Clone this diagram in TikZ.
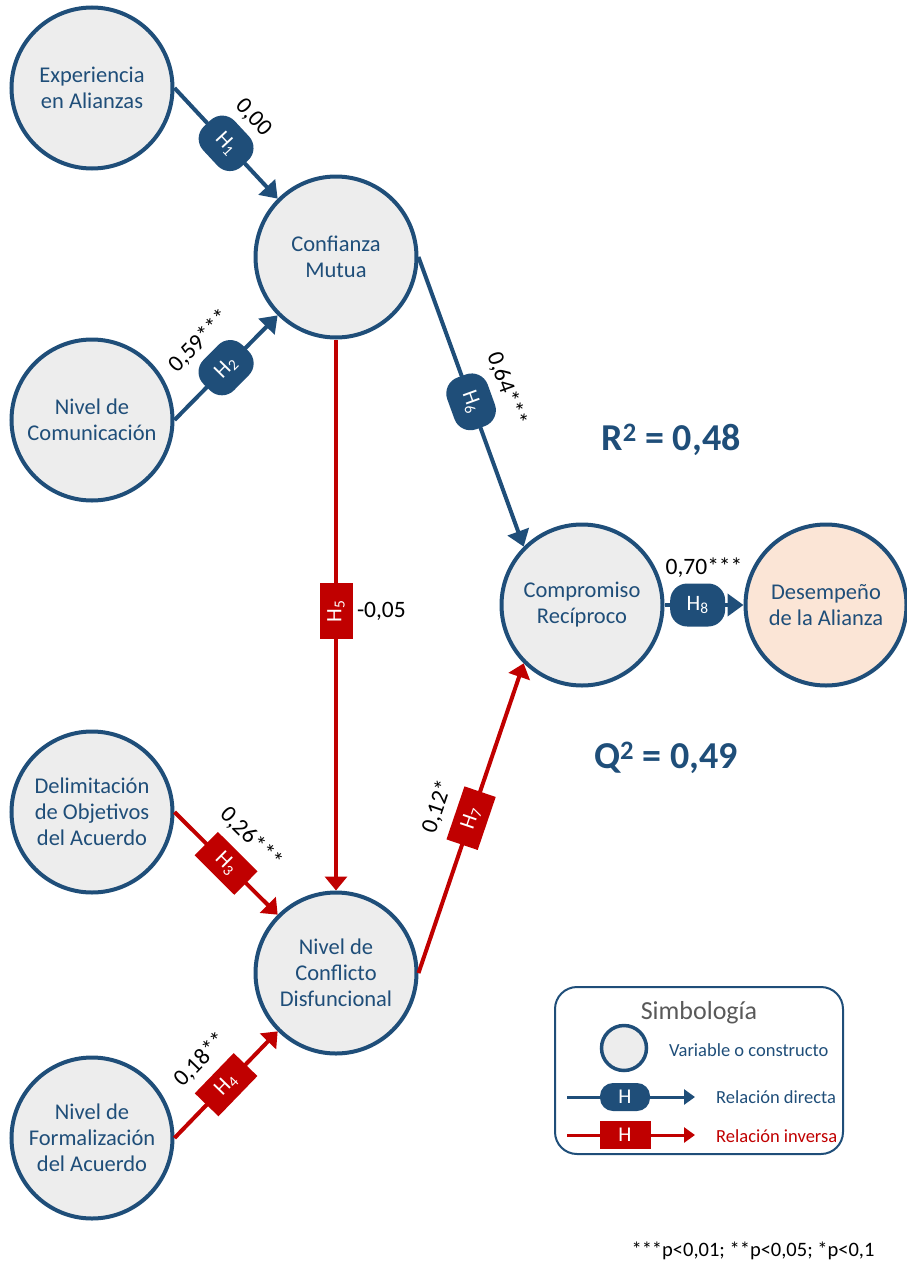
\documentclass[tikz,border=0pt]{standalone}
\usepackage{fontspec}
\setmainfont{Carlito}
\usetikzlibrary{arrows.meta}
\definecolor{azul}{HTML}{1F4E79}
\definecolor{rojo}{HTML}{C00000}
\definecolor{gris}{HTML}{EDEDED}
\definecolor{salmon}{HTML}{FBE5D6}
\definecolor{grisTxt}{HTML}{595959}

\begin{document}
\begin{tikzpicture}[x=1pt,y=-1pt,
  var/.style={circle, draw=azul, line width=4pt, fill=gris, minimum size=161pt,
    inner sep=0pt, align=center, text=azul, font=\fontsize{22.5}{26}\selectfont},
  directa/.style={draw=azul, line width=4pt, -{Triangle[length=16pt,width=22pt]}},
  inversa/.style={draw=rojo, line width=4pt, -{Triangle[length=14pt,width=22pt]}},
  hpill/.style={fill=azul, rounded corners=17pt, minimum width=55pt, minimum height=43pt,
    inner sep=0pt, text=white, font=\fontsize{22}{22}\selectfont},
  hbox/.style={fill=rojo, minimum width=56pt, minimum height=33pt, inner sep=0pt,
    text=white, font=\fontsize{22}{22}\selectfont},
  coef/.style={font=\fontsize{23.5}{23.5}\selectfont, inner sep=0pt, text=black},
  leyenda/.style={font=\fontsize{18.5}{18.5}\selectfont, inner sep=0pt, anchor=west},
]
\useasboundingbox (0,0) rectangle (907,1263);

% constructs
\node[var] (exp)   at (92,88)   {Experiencia\\en Alianzas};
\node[var] (conf)  at (336,257) {Confianza\\Mutua};
\node[var] (com)   at (92,420)  {Nivel de\\Comunicación};
\node[var] (comp)  at (582,605) {Compromiso\\Recíproco};
\node[var, fill=salmon] (des) at (826,605) {Desempeño\\de la Alianza};
\node[var] (del)   at (92,812)  {Delimitación\\de Objetivos\\del Acuerdo};
\node[var] (confl) at (336,973) {Nivel de\\Conflicto\\Disfuncional};
\node[var] (form)  at (92,1138) {Nivel de\\Formalización\\del Acuerdo};

% hypotheses
\draw[directa] (exp.east) -- node[hpill, sloped] (h1) {H\textsubscript{1}}
  node[coef, sloped, above=26pt] (c1) {0,00} (conf.135);
\draw[directa] (com.east) -- node[hpill, sloped] (h2) {H\textsubscript{2}}
  node[coef, sloped, above=26pt] (c2) {0,59***} (conf.225);
\draw[inversa] (del.east) -- node[hbox, sloped] (h3) {H\textsubscript{3}}
  node[coef, sloped, above=24pt] (c3) {0,26***} (confl.135);
\draw[inversa] (form.east) -- node[hbox, sloped] (h4) {H\textsubscript{4}}
  node[coef, sloped, above=24pt] (c4) {0,18**} (confl.225);
\draw[inversa] (conf.south) -- node[hbox, rotate=90, pos=0.493] (h5) {H\textsubscript{5}}
  node[coef, right=19pt, pos=0.493] (c5) {-0,05} (confl.north);
\draw[directa] (conf.east) -- node[hpill, sloped] (h6) {H\textsubscript{6}}
  node[coef, sloped, above=26pt] (c6) {0,64***} (comp.135);
\draw[inversa] (confl.east) -- node[hbox, sloped] (h7) {H\textsubscript{7}}
  node[coef, sloped, above=24pt] (c7) {0,12*} (comp.225);
\draw[directa] (comp.east) -- node[hpill, pos=0.42] (h8) {H\textsubscript{8}}
  node[coef, above=26pt, pos=0.5] (c8) {0,70***} (des.west);

% fit indices
\node[font=\bfseries\fontsize{38}{38}\selectfont, text=azul] (r2) at (671,440)
  {R\textsuperscript{2} = 0,48};
\node[font=\bfseries\fontsize{38}{38}\selectfont, text=azul] (q2) at (666,758)
  {Q\textsuperscript{2} = 0,49};

% legend
\node[draw=azul, line width=2pt, rounded corners=22pt, minimum width=288pt,
  minimum height=167pt] (ley) at (699,1070.5) {};
\node[font=\fontsize{26}{26}\selectfont, text=grisTxt] (tit) at (699,1013) {Simbología};
\node[circle, draw=azul, line width=3.5pt, fill=gris, minimum size=45pt, inner sep=0pt]
  (lc) at (624,1048) {};
\node[leyenda, text=azul] (lvar) at (669,1050) {Variable o constructo};
\coordinate (ld1) at (567,1097);
\coordinate (ld2) at (695,1097);
\draw[draw=azul, line width=3pt, -{Triangle[length=11pt,width=15pt]}] (ld1) -- (ld2);
\node[hpill, minimum width=50pt, minimum height=28pt, rounded corners=13pt,
  font=\fontsize{21}{21}\selectfont] (lh1) at (625,1097) {H};
\node[leyenda, text=azul] (ldir) at (716,1097) {Relación directa};
\coordinate (li1) at (567,1135);
\coordinate (li2) at (695,1135);
\draw[draw=rojo, line width=3pt, -{Triangle[length=11pt,width=15pt]}] (li1) -- (li2);
\node[hbox, minimum width=51pt, minimum height=28pt, font=\fontsize{21}{21}\selectfont]
  (lh2) at (625,1135) {H};
\node[leyenda, text=rojo] (linv) at (716,1136) {Relación inversa};

% significance note
\node[font=\fontsize{20.5}{20.5}\selectfont, inner sep=0pt] (nota) at (753,1251)
  {***p<0,01; **p<0,05; *p<0,1};
\end{tikzpicture}
\end{document}
